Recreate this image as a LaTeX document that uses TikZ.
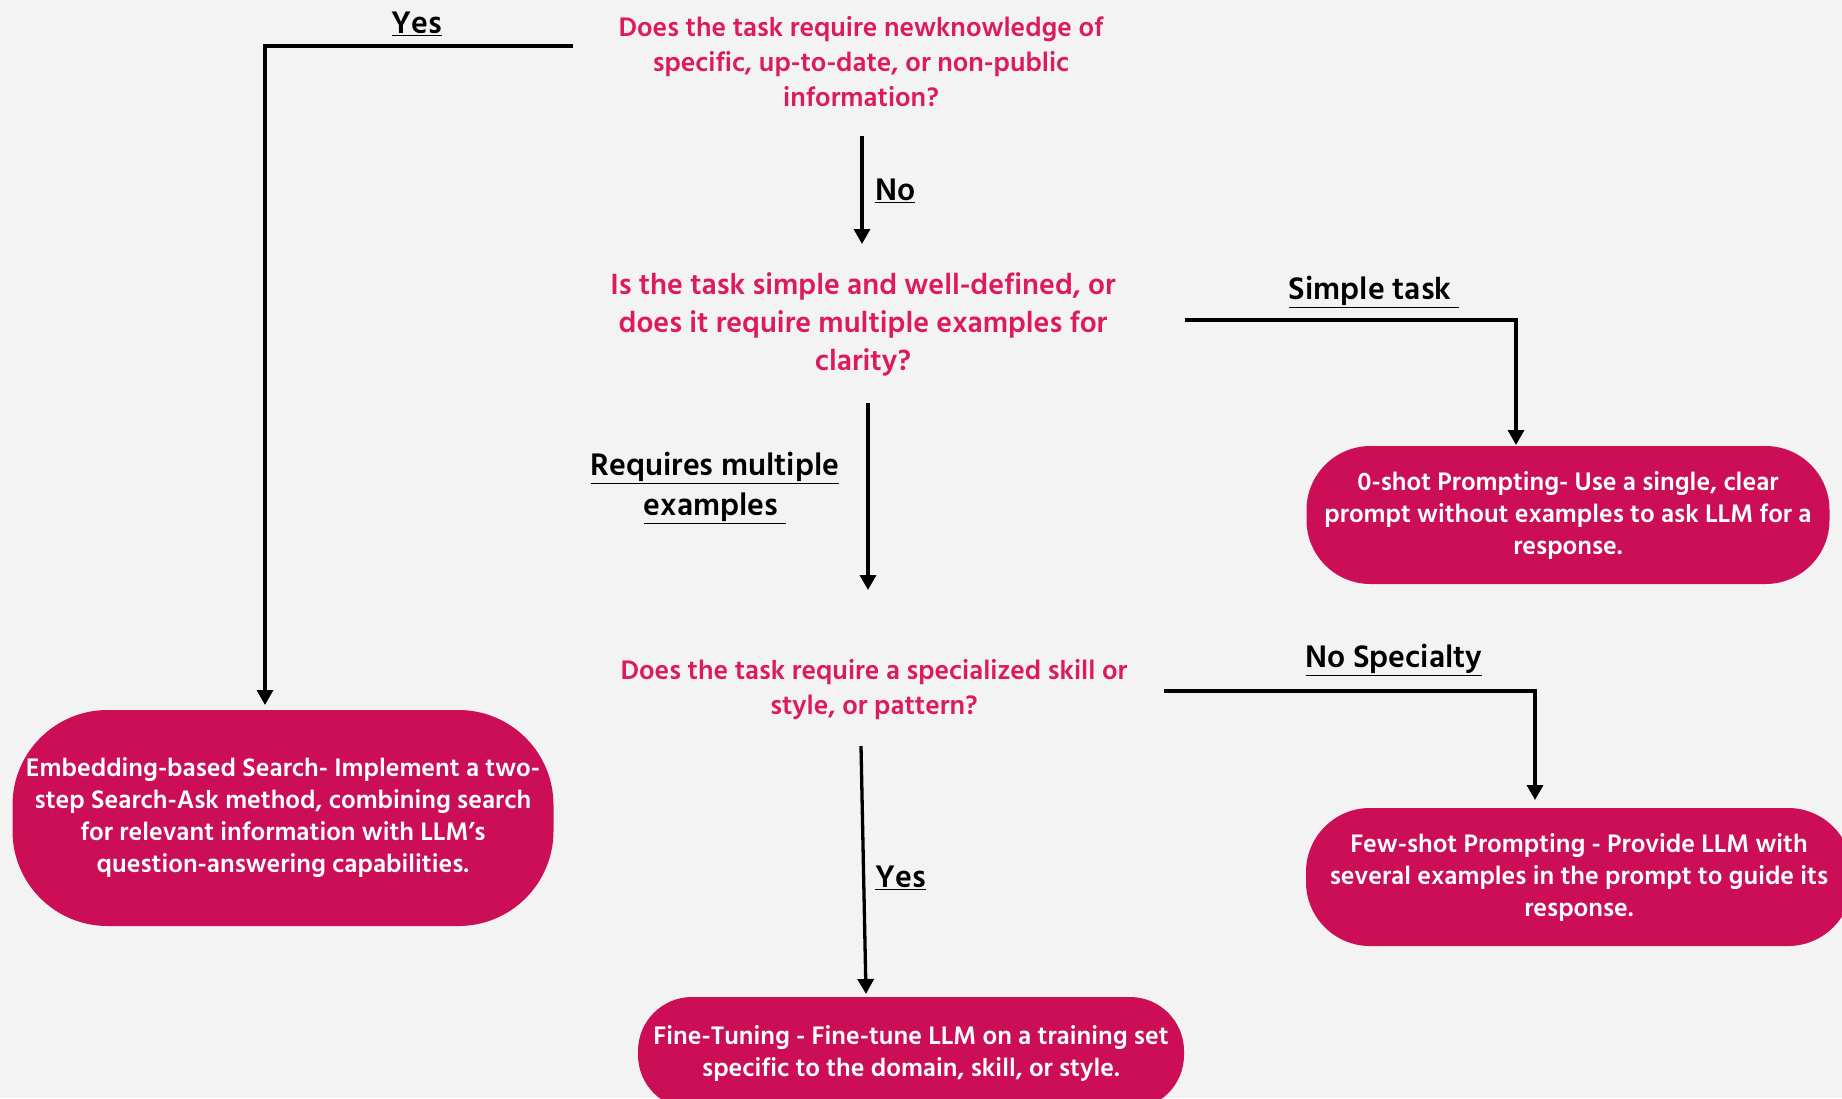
\documentclass[tikz,border=0pt]{standalone}
\usepackage{fontspec}
\setmainfont{Hind Siliguri}
\usetikzlibrary{arrows.meta}
\definecolor{canvas}{HTML}{F3F3F3}
\definecolor{boxred}{HTML}{CB0E55}
\definecolor{qred}{HTML}{DE1A5F}
\begin{document}
\begin{tikzpicture}[x=1pt,y=-1pt,
  question/.style={text=qred, font=\bfseries\fontsize{27.5}{35}\selectfont, align=center, inner sep=0pt},
  bigquestion/.style={question, font=\bfseries\fontsize{30}{38}\selectfont},
  outcome/.style={fill=boxred, text=white, font=\bfseries\fontsize{26}{32}\selectfont,
    align=center, inner sep=0pt},
  tag/.style={text=black, font=\bfseries\fontsize{32}{40}\selectfont, align=center, inner sep=0pt},
  flow/.style={line width=3.3pt, -{Triangle[length=15pt,width=16pt]}},
  ]
\useasboundingbox (0,0) rectangle (1842,1098);
\fill[canvas] (0,0) rectangle (1842,1098);

% questions
\node[question] (q1) at (861,62) {Does the task require newknowledge of\\specific, up-to-date, or non-public\\information?};
\node[bigquestion] (q2) at (863,324) {Is the task simple and well-defined, or\\does it require multiple examples for\\clarity?};
\node[question] (q3) at (874,690) {Does the task require a specialized skill or\\style, or pattern?};

% outcomes
\node[outcome, minimum width=523pt, minimum height=138pt, rounded corners=64pt] (zero) at (1568,515)
  {0-shot Prompting- Use a single, clear\\prompt without examples to ask LLM for a\\response.};
\node[outcome, minimum width=546pt, minimum height=138pt, rounded corners=64pt] (few) at (1579,877)
  {Few-shot Prompting - Provide LLM with\\several examples in the prompt to guide its\\response.};
\node[outcome, minimum width=546pt, minimum height=112pt, rounded corners=54pt] (fine) at (911,1053)
  {Fine-Tuning - Fine-tune LLM on a training set\\specific to the domain, skill, or style.};
\node[outcome, minimum width=541pt, minimum height=216pt, rounded corners=95pt] (embed) at (283,818)
  {Embedding-based Search- Implement a two-\\step Search-Ask method, combining search\\for relevant information with LLM's\\question-answering capabilities.};

% connector ends
\coordinate (yesA) at (573,46);
\coordinate (yesB) at (265,705);
\coordinate (noA) at (862,136);
\coordinate (noB) at (862,244);
\coordinate (simA) at (1185,320);
\coordinate (simB) at (1516,445);
\coordinate (reqA) at (868,403);
\coordinate (reqB) at (868,590);
\coordinate (nsA) at (1164,691);
\coordinate (nsB) at (1535,800);
\coordinate (ysA) at (861,746);
\coordinate (ysB) at (866,994);

\draw[flow] (yesA) -| (yesB);
\draw[flow] (noA) -- (noB);
\draw[flow] (simA) -| (simB);
\draw[flow] (reqA) -- (reqB);
\draw[flow] (nsA) -| (nsB);
\draw[flow] (ysA) -- (ysB);

% branch labels
\node[tag] (lyes) at (417,24) {\underline{Yes}};
\node[tag, anchor=west] (lno) at (875,191) {\underline{No}};
\node[tag] (lsimple) at (1374,292) {\underline{Simple task\ }};
\node[tag] (lreq) at (715,488) {\underline{Requires multiple}\\\underline{examples\ }};
\node[tag] (lnospec) at (1394,660) {\underline{No Specialty}};
\node[tag, anchor=west] (lyes2) at (875,878) {\underline{Yes}};
\end{tikzpicture}
\end{document}
